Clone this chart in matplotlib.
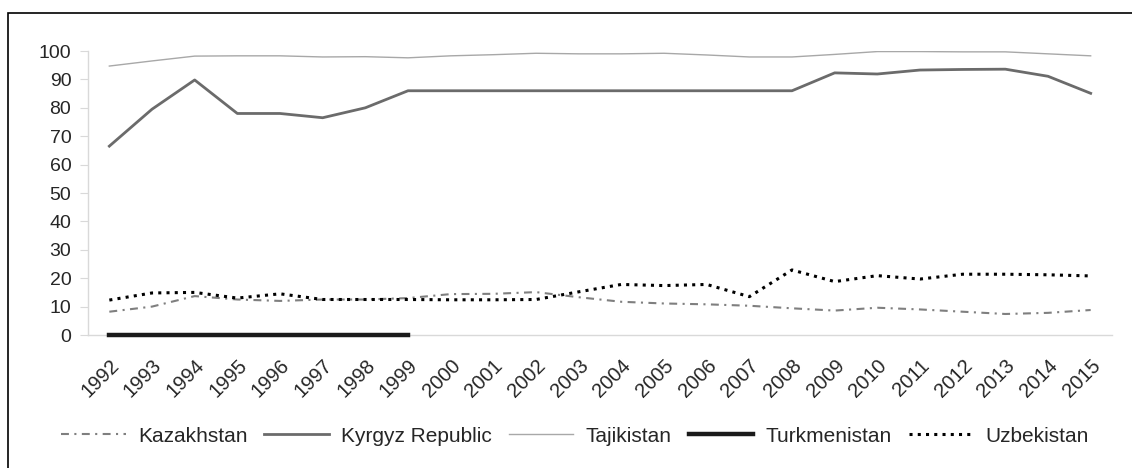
"""
Share of population (%) line chart for five Central Asian countries, 1992-2015.
Recreated with matplotlib, saved as out.png.
"""

import matplotlib
matplotlib.use("Agg")
import matplotlib.pyplot as plt
from matplotlib.patches import Rectangle

plt.rcParams["font.family"] = ["Liberation Sans", "DejaVu Sans"]

# ── Data ─────────────────────────────────────────────────────
years = list(range(1992, 2016))

kazakhstan = [8.2, 10.0, 13.7, 12.5, 12.0, 12.5, 12.5, 13.0, 14.4, 14.5, 15.1, 13.3,
              11.7, 11.1, 10.8, 10.3, 9.4, 8.6, 9.6, 9.0, 8.2, 7.4, 7.8, 8.8]
kyrgyz = [66.5, 79.5, 89.8, 78.0, 78.0, 76.5, 80.0, 86.0, 86.0, 86.0, 86.0, 86.0,
          86.0, 86.0, 86.0, 86.0, 86.0, 92.3, 91.9, 93.3, 93.5, 93.6, 91.1, 85.1]
tajikistan = [94.7, 96.5, 98.2, 98.3, 98.3, 97.9, 98.0, 97.6, 98.3, 98.7, 99.2, 99.0,
              99.0, 99.2, 98.6, 97.9, 97.9, 98.8, 99.8, 99.8, 99.7, 99.7, 99.0, 98.3]
turkmenistan_years = list(range(1992, 2000))
turkmenistan = [0, 0, 0, 0, 0, 0, 0, 0]
uzbekistan = [12.3, 14.8, 15.0, 13.0, 14.5, 12.5, 12.5, 12.5, 12.4, 12.4, 12.5, 15.2,
              17.8, 17.4, 17.8, 13.5, 22.9, 18.8, 20.9, 19.7, 21.4, 21.4, 21.2, 20.8]

# ── Plot ─────────────────────────────────────────────────────
fig = plt.figure(figsize=(11.32, 4.68), dpi=100)
ax = fig.add_axes([88 / 1132, 1 - 335 / 468, 1024 / 1132, 284 / 468])

# outer frame (top and left edges visible in the original)
fig.patches.append(Rectangle((8 / 1132, -0.05), 1.2, 1 - 13 / 468 + 0.05,
                             transform=fig.transFigure, fill=False,
                             edgecolor="black", linewidth=1.2))

ax.plot(years, kazakhstan, color="#7f7f7f", linewidth=1.5,
        linestyle=(0, (3.8, 2.6, 1, 2.6)), label="Kazakhstan")
ax.plot(years, kyrgyz, color="#6b6b6b", linewidth=2.0, label="Kyrgyz Republic")
ax.plot(years, tajikistan, color="#a8a8a8", linewidth=1.0, label="Tajikistan")
ax.plot(turkmenistan_years, turkmenistan, color="#1a1a1a", linewidth=3.2,
        label="Turkmenistan", clip_on=False, zorder=5)
ax.plot(years, uzbekistan, color="black", linewidth=2.2,
        linestyle=(0, (1, 1.7)), label="Uzbekistan")

ax.set_xlim(1991.5, 2015.5)
ax.set_ylim(0, 100)
ax.set_xticks(years)
ax.set_xticklabels([str(y) for y in years], rotation=45, ha="right",
                   va="top", rotation_mode="anchor")
ax.set_yticks(range(0, 101, 10))

for side in ["top", "right"]:
    ax.spines[side].set_visible(False)
for side in ["left", "bottom"]:
    ax.spines[side].set_color("#d9d9d9")
    ax.spines[side].set_linewidth(1.0)

ax.tick_params(axis="y", length=6, color="#d9d9d9", labelsize=14,
               labelcolor="#262626", pad=6)
ax.tick_params(axis="x", length=0, labelsize=14.5, labelcolor="#262626", pad=15)

fig.legend(loc="center", bbox_to_anchor=(0.508, 1 - 436 / 468), ncol=5,
           frameon=False, fontsize=15, handlelength=3.1, handletextpad=0.6,
           columnspacing=0.8, labelcolor="#262626")

plt.savefig("out.png", dpi=100)
